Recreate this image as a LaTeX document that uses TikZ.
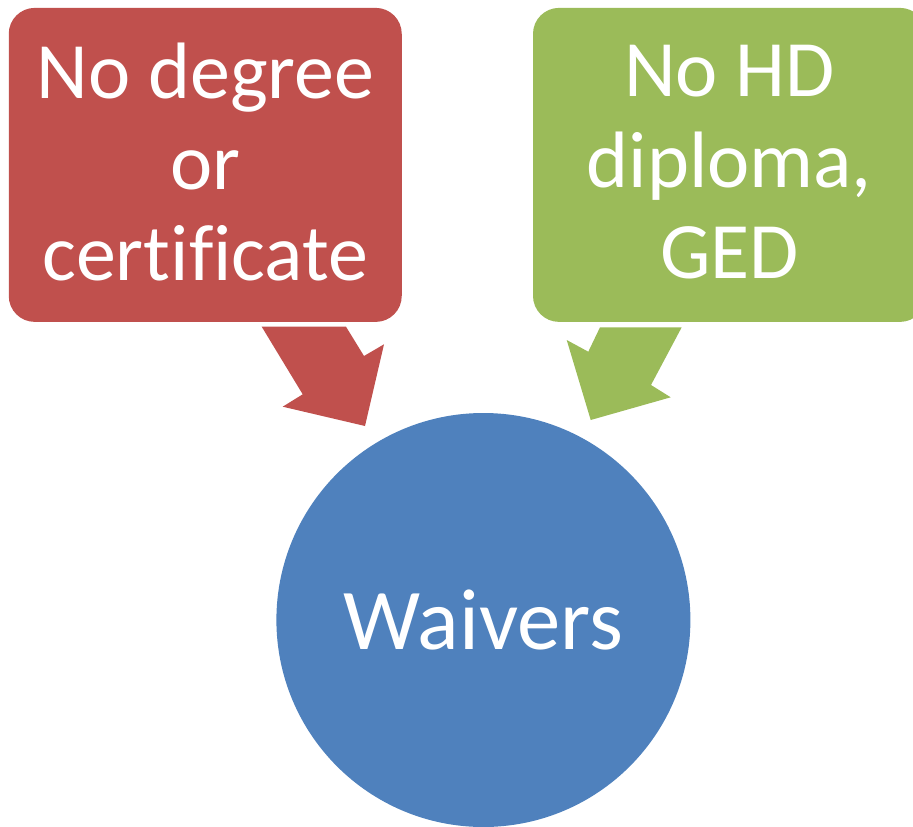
\documentclass[tikz,border=0pt]{standalone}
\usepackage{fontspec}
\setmainfont{Carlito}[Ligatures=NoCommon]
\usepackage{tikz}
\usetikzlibrary{positioning}
\definecolor{boxred}{HTML}{C0504D}
\definecolor{boxgreen}{HTML}{9BBB59}
\definecolor{circblue}{HTML}{4F81BD}
\begin{document}
\begin{tikzpicture}[
    x=0.75pt, y=-0.75pt,
    mybox/.style={rounded corners=19.5pt, minimum width=294.75pt, minimum height=235.5pt, inner sep=0pt, text=white, align=center, font=\fontsize{60}{68.3}\selectfont},
    mycirc/.style={circle, fill=circblue, minimum size=310.5pt, inner sep=0pt, text=white, font=\fontsize{65}{78}\selectfont},
    arrowred/.style={fill=boxred},
    arrowgreen/.style={fill=boxgreen}
]
\useasboundingbox (0,0) rectangle (913,827);

% Boxes
\node[mybox, fill=boxred] (nodegree) at (205.25,164.9) {No degree\\or\\certificate\rule[-4.5pt]{0pt}{4.5pt}};
\node[mybox, fill=boxgreen] (nohd) at (729.5,164.9) {No HD\\diploma,\\GED\rule[-4.5pt]{0pt}{4.5pt}};

% Circle
\node[mycirc] (waivers) at (483.4,620) {Waivers};

% Arrows
\fill[arrowred] (261.7,326.7) -- (346,326.7) -- (364,356) -- (384,344.3) -- (365,426) -- (282.7,406.7) -- (302.7,394.3) -- cycle;
\fill[arrowgreen] (600,327.3) -- (681.7,327.3) -- (651,385) -- (670.7,397.3) -- (590.7,420) -- (566.7,340) -- (588.3,351.7) -- cycle;

\end{tikzpicture}
\end{document}
